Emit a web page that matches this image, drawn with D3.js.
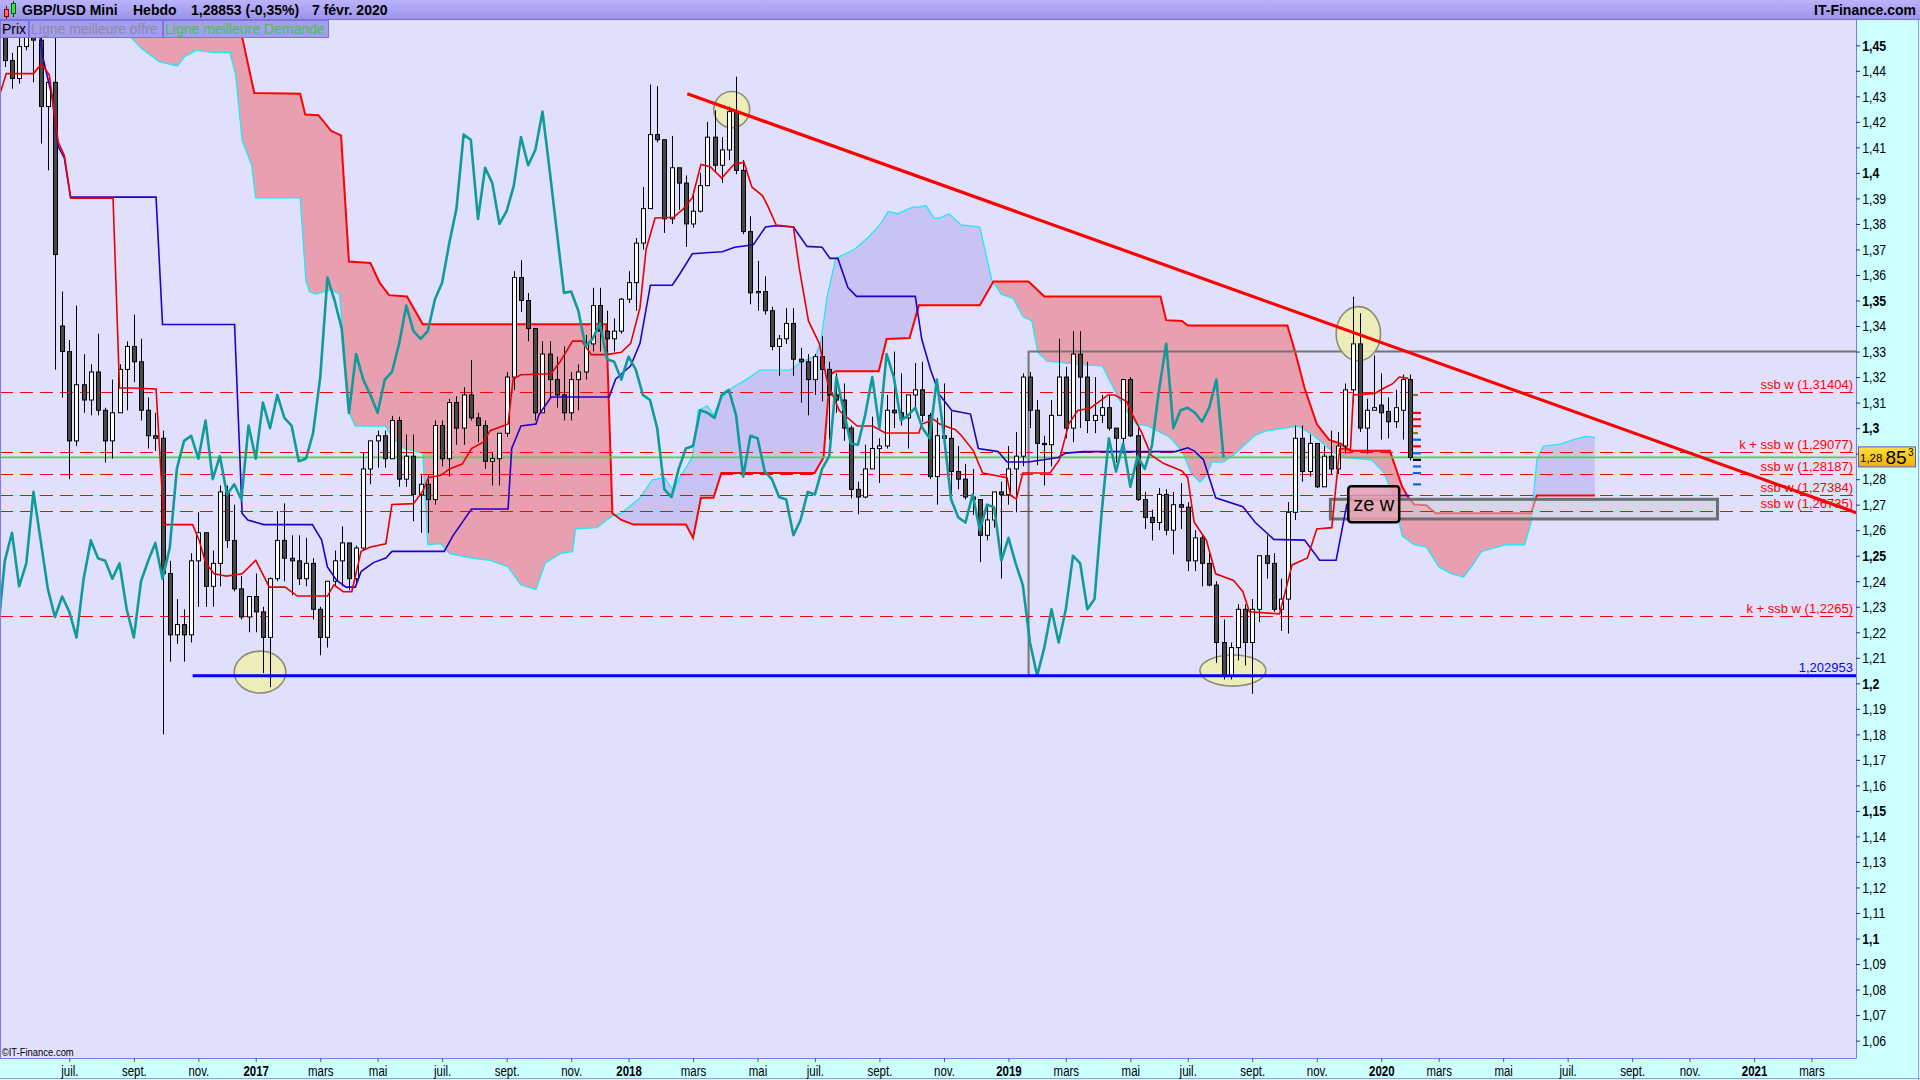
<!DOCTYPE html>
<html><head><meta charset="utf-8">
<script src="https://cdn.jsdelivr.net/npm/d3@7"></script>
<style>
html,body{margin:0;padding:0;background:#e0e0fc;overflow:hidden}
svg{display:block}
text{font-family:"Liberation Sans",Arial,sans-serif}
</style></head><body>
<svg id="c" width="1920" height="1080"></svg>
<script>
// ---------------- DATA ----------------
const firstWeek = "2016-04-25"; // week index 0 (weekly candles)
// weekly candles [open, high, low, close]
const ohlc = [
[1.4405,1.4640,1.4385,1.4615],[1.4615,1.4770,1.4415,1.4440],[1.4440,1.4470,1.4330,1.4370],[1.4370,1.4600,1.4350,1.4495],
[1.4495,1.4720,1.4480,1.4620],[1.4620,1.4650,1.4355,1.4520],[1.4520,1.4660,1.4115,1.4260],[1.4260,1.4360,1.4010,1.4355],
[1.4355,1.5018,1.3229,1.3680],[1.3400,1.3535,1.3120,1.3300],[1.3300,1.3345,1.2800,1.2950],[1.2950,1.3480,1.2930,1.3170],
[1.3170,1.3290,1.3060,1.3110],[1.3110,1.3250,1.3050,1.3220],[1.3220,1.3370,1.3050,1.3070],[1.3070,1.3080,1.2865,1.2950],
[1.2950,1.3190,1.2880,1.3060],[1.3060,1.3250,1.3060,1.3230],[1.3230,1.3340,1.3070,1.3320],[1.3320,1.3445,1.3180,1.3260],
[1.3260,1.3350,1.3030,1.3070],[1.3070,1.3120,1.2920,1.2970],[1.2970,1.3060,1.2910,1.2960],[1.2960,1.2990,1.1800,1.2430],
[1.2430,1.2480,1.2085,1.2190],[1.2190,1.2330,1.2155,1.2230],[1.2230,1.2290,1.2085,1.2190],[1.2190,1.2510,1.2160,1.2480],
[1.2480,1.2670,1.2300,1.2590],[1.2590,1.2590,1.2300,1.2380],[1.2380,1.2520,1.2300,1.2470],[1.2470,1.2775,1.2380,1.2750],
[1.2750,1.2775,1.2530,1.2560],[1.2560,1.2700,1.2360,1.2370],[1.2370,1.2420,1.2250,1.2260],[1.2260,1.2340,1.2200,1.2340],
[1.2340,1.2430,1.2200,1.2280],[1.2280,1.2300,1.2040,1.2180],[1.2180,1.2415,1.1985,1.2410],[1.2410,1.2675,1.2400,1.2560],
[1.2560,1.2705,1.2400,1.2490],[1.2490,1.2580,1.2345,1.2480],[1.2480,1.2580,1.2385,1.2410],[1.2410,1.2570,1.2380,1.2470],
[1.2470,1.2490,1.2250,1.2290],[1.2290,1.2300,1.2110,1.2180],[1.2180,1.2400,1.2140,1.2400],[1.2400,1.2520,1.2380,1.2480],
[1.2480,1.2615,1.2380,1.2550],[1.2550,1.2550,1.2365,1.2410],[1.2410,1.2540,1.2390,1.2530],[1.2530,1.2905,1.2520,1.2840],
[1.2840,1.2950,1.2780,1.2950],[1.2950,1.2990,1.2845,1.2970],[1.2970,1.2990,1.2845,1.2880],[1.2880,1.3048,1.2880,1.3030],
[1.3030,1.3045,1.2770,1.2800],[1.2800,1.2975,1.2770,1.2890],[1.2890,1.2975,1.2635,1.2740],[1.2740,1.2815,1.2590,1.2780],
[1.2780,1.2815,1.2590,1.2720],[1.2720,1.3030,1.2700,1.3010],[1.3010,1.3030,1.2850,1.2880],[1.2880,1.3115,1.2810,1.3100],
[1.3100,1.3125,1.2935,1.3000],[1.3000,1.3160,1.2935,1.3130],[1.3130,1.3267,1.3030,1.3040],[1.3040,1.3060,1.2945,1.3010],
[1.3010,1.3030,1.2840,1.2870],[1.2870,1.2905,1.2775,1.2880],[1.2880,1.2980,1.2775,1.2980],[1.2980,1.3220,1.2965,1.3200],
[1.3200,1.3615,1.3150,1.3590],[1.3590,1.3658,1.3455,1.3500],[1.3500,1.3530,1.3340,1.3390],[1.3390,1.3390,1.3030,1.3060],
[1.3060,1.3340,1.3060,1.3290],[1.3290,1.3340,1.3120,1.3190],[1.3190,1.3280,1.3080,1.3130],[1.3130,1.3320,1.3030,1.3060],
[1.3060,1.3220,1.3030,1.3190],[1.3190,1.3250,1.3070,1.3220],[1.3220,1.3365,1.3190,1.3330],[1.3330,1.3550,1.3300,1.3480],
[1.3480,1.3550,1.3300,1.3380],[1.3380,1.3460,1.3300,1.3350],[1.3350,1.3430,1.3300,1.3380],[1.3380,1.3510,1.3370,1.3505],
[1.3505,1.3615,1.3490,1.3570],[1.3570,1.3745,1.3460,1.3725],[1.3725,1.3945,1.3700,1.3860],[1.3860,1.4346,1.3860,1.4150],
[1.4150,1.4340,1.4120,1.4130],[1.4130,1.4130,1.3765,1.3820],[1.3820,1.4145,1.3800,1.4020],[1.4020,1.4020,1.3855,1.3960],
[1.3960,1.3990,1.3710,1.3800],[1.3800,1.3930,1.3785,1.3850],[1.3850,1.4000,1.3845,1.3950],[1.3950,1.4200,1.3950,1.4140],
[1.4140,1.4245,1.4000,1.4030],[1.4030,1.4140,1.3960,1.4090],[1.4090,1.4260,1.4050,1.4240],[1.4240,1.4377,1.3995,1.4010],
[1.4010,1.4050,1.3760,1.3770],[1.3770,1.3830,1.3485,1.3530],[1.3530,1.3655,1.3460,1.3535],[1.3535,1.3595,1.3445,1.3460],
[1.3460,1.3475,1.3305,1.3320],[1.3320,1.3365,1.3205,1.3350],[1.3350,1.3470,1.3330,1.3410],[1.3410,1.3470,1.3205,1.3270],
[1.3270,1.3315,1.3100,1.3260],[1.3260,1.3290,1.3050,1.3190],[1.3190,1.3290,1.3130,1.3280],[1.3280,1.3360,1.3105,1.3230],
[1.3230,1.3260,1.2955,1.3130],[1.3130,1.3215,1.3060,1.3110],[1.3110,1.3175,1.2950,1.3000],[1.3000,1.3010,1.2725,1.2760],
[1.2760,1.2790,1.2662,1.2730],[1.2730,1.2935,1.2725,1.2840],[1.2840,1.3045,1.2840,1.2920],[1.2920,1.2960,1.2785,1.2930],
[1.2930,1.3130,1.2920,1.3070],[1.3070,1.3300,1.3000,1.3060],[1.3060,1.3215,1.3010,1.3040],[1.3040,1.3130,1.2920,1.3130],
[1.3130,1.3255,1.3080,1.3150],[1.3150,1.3260,1.3025,1.3050],[1.3050,1.3060,1.2800,1.2810],[1.2810,1.3040,1.2700,1.2970],
[1.2970,1.3175,1.2920,1.2960],[1.2960,1.3065,1.2725,1.2830],[1.2830,1.2930,1.2760,1.2800],[1.2800,1.2860,1.2720,1.2730],
[1.2730,1.2840,1.2660,1.2720],[1.2720,1.2720,1.2475,1.2580],[1.2580,1.2700,1.2560,1.2640],[1.2640,1.2750,1.2610,1.2750],
[1.2750,1.2790,1.2410,1.2740],[1.2740,1.2930,1.2700,1.2840],[1.2840,1.2985,1.2670,1.2890],[1.2890,1.3215,1.2850,1.3200],
[1.3200,1.3220,1.3000,1.3070],[1.3070,1.3110,1.2855,1.2940],[1.2940,1.2970,1.2775,1.2935],[1.2935,1.3110,1.2850,1.3050],
[1.3050,1.3350,1.3050,1.3200],[1.3200,1.3240,1.2960,1.3000],[1.3000,1.3380,1.2945,1.3290],[1.3290,1.3380,1.3000,1.3200],
[1.3200,1.3260,1.2980,1.3030],[1.3030,1.3200,1.2980,1.3050],[1.3050,1.3130,1.3020,1.3080],[1.3080,1.3130,1.2990,1.3000],
[1.3000,1.3000,1.2865,1.2960],[1.2960,1.3185,1.2900,1.3190],[1.3190,1.3200,1.2965,1.2970],[1.2970,1.3000,1.2715,1.2720],
[1.2720,1.2750,1.2605,1.2650],[1.2650,1.2680,1.2560,1.2630],[1.2630,1.2765,1.2600,1.2740],[1.2740,1.2760,1.2580,1.2600],
[1.2600,1.2750,1.2505,1.2700],[1.2700,1.2785,1.2605,1.2690],[1.2690,1.2710,1.2440,1.2480],[1.2480,1.2600,1.2440,1.2570],
[1.2570,1.2580,1.2380,1.2470],[1.2470,1.2520,1.2380,1.2385],[1.2385,1.2400,1.2080,1.2160],[1.2160,1.2250,1.2015,1.2030],
[1.2030,1.2160,1.2015,1.2140],[1.2140,1.2310,1.2090,1.2290],[1.2290,1.2310,1.2070,1.2160],[1.2160,1.2330,1.1959,1.2290],
[1.2290,1.2500,1.2240,1.2500],[1.2500,1.2580,1.2410,1.2470],[1.2470,1.2510,1.2280,1.2290],[1.2290,1.2410,1.2205,1.2330],
[1.2330,1.2710,1.2195,1.2670],[1.2670,1.3010,1.2640,1.2960],[1.2960,1.3010,1.2790,1.2830],[1.2830,1.2975,1.2810,1.2940],
[1.2940,1.2940,1.2765,1.2770],[1.2770,1.2930,1.2770,1.2890],[1.2890,1.2990,1.2820,1.2840],[1.2840,1.2985,1.2820,1.2930],
[1.2930,1.3175,1.2900,1.3150],[1.3150,1.3515,1.3100,1.3330],[1.3330,1.3450,1.2985,1.3000],[1.3000,1.3115,1.2900,1.3070],
[1.3070,1.3285,1.3070,1.3080],[1.3090,1.3215,1.2955,1.3060],[1.3065,1.3120,1.2960,1.3025],[1.3025,1.3150,1.3000,1.3080],
[1.3070,1.3210,1.2955,1.3190],[1.3190,1.3210,1.2873,1.2885]
];
const chikouShift = 26; // weeks
// Ichimoku lines: [week index, value]
const tenkan = [[0,1.428],[1.2,1.4389],[5.0,1.4389],[6.1,1.4427],[7.2,1.4384],[8.45,1.4121],[9.3,1.4068],[10.2,1.3901],[16.1,1.3901],[17.0,1.3157],[18.7,1.3157],[22.1,1.3153],[23.2,1.2622],[27.2,1.2622],[28.1,1.2561],[29.0,1.2473],[30.2,1.2429],[31.9,1.2420],[34.1,1.2429],[36.0,1.2482],[37.9,1.2377],[40.1,1.2377],[41.8,1.2342],[46.0,1.2342],[46.9,1.2386],[48.2,1.2359],[49.4,1.2359],[50.7,1.2517],[52.0,1.2534],[54.15,1.2547],[55.0,1.2701],[58.0,1.2704],[59.3,1.2753],[60.1,1.2806],[61.8,1.2815],[63.1,1.2841],[64.8,1.2859],[66.1,1.2920],[67.8,1.2946],[68.7,1.2990],[71.2,1.3016],[71.9,1.3192],[73.0,1.3209],[77.2,1.3213],[78.5,1.3262],[80.2,1.3341],[81.5,1.3341],[82.8,1.3288],[84.9,1.3288],[87.0,1.3297],[88.3,1.3332],[89.6,1.3472],[90.45,1.3700],[91.7,1.3823],[94.3,1.3826],[95.6,1.3858],[96.9,1.3902],[98.1,1.4033],[99.4,1.4024],[101.0,1.3980],[102.7,1.4033],[104.1,1.4042],[105.2,1.3945],[106.7,1.3910],[107.5,1.3866],[108.6,1.3796],[111.0,1.3788],[111.8,1.3630],[113.1,1.3420],[114.6,1.3332],[115.8,1.3174],[117.4,1.3069],[119.9,1.3008],[122.1,1.3008],[123.8,1.2981],[128.5,1.2981],[128.9,1.3016],[130.6,1.3034],[131.4,1.3016],[133.6,1.2994],[134.4,1.2972],[136.1,1.2911],[137.4,1.2824],[140.8,1.2806],[141.3,1.2736],[142.1,1.2722],[143.0,1.2824],[146.8,1.2824],[148.1,1.2876],[149.4,1.3016],[150.65,1.3069],[152.4,1.3078],[154.9,1.3130],[155.8,1.3130],[157.5,1.3104],[158.3,1.3052],[159.6,1.2981],[160.9,1.2894],[162.6,1.2862],[165.2,1.2832],[166.0,1.2806],[166.9,1.2631],[168.6,1.2561],[169.9,1.2429],[172.4,1.2403],[173.7,1.2359],[174.6,1.2280],[178.8,1.2272],[179.7,1.2368],[180.55,1.2464],[182.7,1.2491],[184.0,1.2605],[186.1,1.2610],[187.2,1.2920],[188.7,1.2915],[189.1,1.3130],[192.1,1.3136],[193.4,1.3157],[194.6,1.3174],[195.5,1.3200],[196.8,1.3195]];
const kijun = [[0,1.458],[5.0,1.4533],[5.9,1.4533],[6.3,1.4454],[7.6,1.4296],[8.45,1.4103],[9.3,1.4059],[10.16,1.3905],[22.1,1.3905],[23.0,1.3406],[33.05,1.3406],[34.1,1.2666],[34.9,1.2640],[37.1,1.2622],[43.9,1.2622],[45.2,1.2561],[46.0,1.2456],[47.3,1.2403],[48.6,1.2377],[49.9,1.2377],[50.7,1.2438],[52.4,1.2473],[54.15,1.2491],[55.0,1.2517],[62.3,1.2517],[63.5,1.2578],[66.1,1.2683],[71.2,1.2683],[71.7,1.2920],[73.0,1.3008],[75.1,1.3016],[75.5,1.3052],[77.2,1.3122],[85.3,1.3122],[86.2,1.3192],[88.3,1.3244],[89.6,1.3332],[91.05,1.3560],[94.1,1.3560],[95.15,1.3604],[96.9,1.3683],[99.4,1.3688],[101.1,1.3691],[102.8,1.3709],[105.4,1.3718],[107.1,1.3788],[108.4,1.3793],[111.0,1.3788],[112.9,1.3712],[115.0,1.3709],[116.1,1.3665],[117.2,1.3665],[118.6,1.3551],[119.8,1.3516],[128.0,1.3516],[128.9,1.3349],[130.15,1.3227],[131.4,1.3130],[133.1,1.3069],[135.7,1.3055],[136.8,1.2920],[139.55,1.2908],[140.8,1.2867],[143.8,1.2867],[147.9,1.2885],[149.0,1.2902],[151.5,1.2908],[164.3,1.2908],[166.0,1.2923],[166.9,1.2911],[168.2,1.2876],[169.9,1.2727],[173.7,1.2692],[175.4,1.2631],[178.0,1.2564],[182.3,1.2561],[184.4,1.2482],[186.7,1.2482],[188.2,1.2701],[188.9,1.2736],[197,1.2736]];
const senkouA = [[17,1.47],[18.3,1.4541],[20.0,1.4489],[22.5,1.4436],[25.1,1.4419],[26.0,1.4454],[27.7,1.4480],[30.2,1.4471],[32.4,1.4471],[33.2,1.4384],[34.1,1.4129],[35.4,1.4033],[36.0,1.3902],[42.2,1.3902],[43.0,1.3577],[43.5,1.3534],[44.3,1.3525],[46.5,1.3542],[47.7,1.3525],[49.0,1.3060],[49.9,1.3008],[54.15,1.3008],[55.0,1.2964],[56.7,1.2920],[59.3,1.2902],[60.0,1.2543],[61.8,1.2547],[63.1,1.2508],[66.1,1.2491],[68.7,1.2482],[71.2,1.2456],[73.0,1.2385],[75.1,1.2368],[76.4,1.2473],[78.5,1.2508],[80.2,1.2517],[80.6,1.2605],[83.6,1.2610],[85.75,1.2657],[87.0,1.2666],[89.6,1.2727],[91.3,1.2797],[93.0,1.2806],[94.3,1.2753],[95.15,1.2806],[96.9,1.2885],[97.7,1.3069],[99.0,1.3087],[99.85,1.3052],[101.1,1.3122],[102.4,1.3157],[104.55,1.3192],[106.3,1.3227],[110.5,1.3227],[112.2,1.3262],[113.95,1.3279],[114.8,1.3332],[115.65,1.3507],[116.9,1.3665],[119.5,1.3700],[121.6,1.3752],[123.3,1.3805],[124.2,1.3849],[125.5,1.3840],[127.6,1.3866],[128.4,1.3866],[129.5,1.3872],[130.6,1.3823],[131.4,1.3823],[132.7,1.3840],[134.4,1.3796],[137.0,1.3788],[138.7,1.3577],[140.0,1.3525],[141.7,1.3507],[143.0,1.3437],[144.25,1.3420],[145.1,1.3297],[146.4,1.3262],[151.5,1.3248],[154.1,1.3244],[155.35,1.3174],[156.6,1.3104],[158.8,1.3016],[160.5,1.3008],[161.75,1.2990],[163.5,1.2964],[165.2,1.2911],[166.5,1.2824],[167.7,1.2789],[168.6,1.2815],[169.4,1.2867],[170.9,1.2867],[172.4,1.2894],[173.7,1.2929],[175.4,1.2972],[177.1,1.2990],[181.4,1.3008],[183.5,1.2972],[185.7,1.2920],[187.4,1.2885],[191.65,1.2876],[193.4,1.2824],[194.6,1.2736],[195.5,1.2631],[195.9,1.2578],[197.6,1.2543],[199.3,1.2534],[201.05,1.2456],[202.8,1.2429],[204.5,1.2417],[205.75,1.2464],[207.0,1.2517],[210.45,1.2543],[213.0,1.2543],[213.9,1.2631],[214.7,1.2876],[215.6,1.2929],[218.1,1.2938],[219.8,1.2955],[221.55,1.2967],[222.8,1.2964]];
const senkouB = [[17,1.50],[33.5,1.4664],[34.1,1.4533],[35.8,1.4313],[42.2,1.4310],[42.9,1.4229],[44.75,1.4226],[46.5,1.4165],[47.9,1.4147],[49.0,1.3653],[52.0,1.3647],[53.3,1.3569],[54.6,1.3521],[57.1,1.3516],[59.3,1.3407],[84.9,1.3407],[85.75,1.2666],[87.0,1.2640],[88.7,1.2622],[96.0,1.2622],[97.0,1.2570],[98.1,1.2727],[99.85,1.2727],[100.95,1.2824],[113.95,1.2824],[115.2,1.2885],[116.1,1.3209],[116.9,1.3223],[122.9,1.3223],[124.0,1.3349],[127.2,1.3353],[128.5,1.3481],[137.0,1.3481],[138.9,1.3574],[143.8,1.3574],[146.0,1.3516],[162.2,1.3516],[163.0,1.3423],[165.2,1.3420],[166.0,1.3402],[179.9,1.3402],[181.0,1.3297],[182.3,1.3157],[184.0,1.3016],[185.7,1.2955],[187.4,1.2938],[188.7,1.2911],[194.2,1.2911],[195.9,1.2771],[196.8,1.2727],[197.6,1.2701],[199.3,1.2698],[200.6,1.2666],[213.9,1.2666],[214.7,1.2736],[222.8,1.2736]];
// horizontal levels
const levelValues = [1.31404, 1.29077, 1.28187, 1.27384, 1.26735, 1.2265];
const levelLabels = ["ssb w (1,31404)","k + ssb w (1,29077)","ssb w (1,28187)","ssb w (1,27384)","ssb w (1,26735)","k + ssb w (1,2265)"];
const supportValue = 1.202953, supportLabel = "1,202953", supportStartWeek = 27.2;
const lastPrice = 1.28853;
const lastPriceParts = ["1,28","85","3"];
const trendPoints = [[96.2,1.4310],[259.8,1.2663]];
// annotations: [week, value, half-width in weeks, half-height in price]
const ellipses = [[36.6,1.2044,3.6,0.0082],[102.4,1.4248,2.5,0.0071],[189.8,1.3370,3.1,0.0106],[172.3,1.2050,4.6,0.0061]];
const rangeBox = [143.8, 1.3300, 1.202953];          // start week, top, bottom (open to the right)
const zoneBox = [185.9, 239.9, 1.2721, 1.2644];      // weeks, top, bottom
const zeBox = [188.4, 195.5, 1.2772, 1.2631], zeLabel = "ze w";
const bookMarks = [[1.3130,"o"],[1.3060,"a"],[1.3035,"a"],[1.3008,"a"],[1.2981,"o"],[1.2955,"b"],[1.2929,"a"],[1.2902,"b"],[1.2876,"k"],[1.2850,"b"],[1.2824,"b"],[1.2780,"b"]];
const monthNames = ["janv.","févr.","mars","avr.","mai","juin","juil.","août","sept.","oct.","nov.","déc."];
const yTickValues = d3.range(106, 146).map(v => v / 100);
const titleParts = [["GBP/USD Mini",22],["Hebdo",133],["1,28853 (-0,35%)",191],["7 févr. 2020",312]];
const tabs = [["Prix","#000000",0,28],["Ligne meilleure offre","#8a8aac",29,162],["Ligne meilleure Demande","#40c840",163,328]];

// ---------------- LAYOUT ----------------
const W = 1920, H = 1080, plotR = 1856, plotT = 20, plotB = 1058;
const svg = d3.select("#c");
const t0 = d3.timeParse("%Y-%m-%d")(firstWeek);
const x = d3.scaleTime().domain([new Date(2017,0,1), new Date(2021,0,1)]).range([254.7, 1751]);
const xw = w => x(new Date(t0.getTime() + w * 7 * 86400000));
const y = d3.scaleLinear().domain([1.45, 1.06]).range([45.3, 1040.6]);

const defs = svg.append("defs");
defs.append("clipPath").attr("id","plotClip").append("rect").attr("x",0).attr("y",plotT).attr("width",plotR).attr("height",plotB-plotT);
const areaDown = d3.area().x(d=>xw(d[0])).y0(plotB+10).y1(d=>y(d[1]));
const areaUp = d3.area().x(d=>xw(d[0])).y0(-10).y1(d=>y(d[1]));
defs.append("clipPath").attr("id","aboveA").append("path").attr("d", areaUp(senkouA));
defs.append("clipPath").attr("id","aboveB").append("path").attr("d", areaUp(senkouB));
const hg = defs.append("linearGradient").attr("id","hdr").attr("x1",0).attr("y1",0).attr("x2",0).attr("y2",1);
hg.append("stop").attr("offset","0").attr("stop-color","#bab3fb");
hg.append("stop").attr("offset","1").attr("stop-color","#9a92ea");
const pg = defs.append("linearGradient").attr("id","pl").attr("x1",0).attr("y1",0).attr("x2",0).attr("y2",1);
pg.append("stop").attr("offset","0").attr("stop-color","#ffe040");
pg.append("stop").attr("offset","1").attr("stop-color","#f0b000");

// backgrounds
svg.append("rect").attr("x",0).attr("y",0).attr("width",W).attr("height",H).attr("fill","#e0e0fc");
svg.append("rect").attr("x",plotR).attr("y",plotT).attr("width",W-plotR).attr("height",H-plotT).attr("fill","#ccffff");
svg.append("rect").attr("x",0).attr("y",plotB).attr("width",plotR).attr("height",H-plotB).attr("fill","#ccffff");

const plot = svg.append("g").attr("clip-path","url(#plotClip)");
const line = d3.line().x(d=>xw(d[0])).y(d=>y(d[1]));

// cloud
plot.append("path").attr("d", areaDown(senkouB)).attr("clip-path","url(#aboveA)").attr("fill","#e8a0b0");
plot.append("path").attr("d", areaDown(senkouA)).attr("clip-path","url(#aboveB)").attr("fill","#c9c3f4");
plot.append("path").attr("d", line(senkouA)).attr("fill","none").attr("stroke","#20e8f8").attr("stroke-width",1.3);
plot.append("path").attr("d", line(senkouB)).attr("fill","none").attr("stroke","#ff0000").attr("stroke-width",2);

// zone box (future)
plot.append("rect").attr("x",xw(zoneBox[0])).attr("y",y(zoneBox[2])).attr("width",xw(zoneBox[1])-xw(zoneBox[0]))
  .attr("height",y(zoneBox[3])-y(zoneBox[2])).attr("fill","rgba(205,205,220,0.55)").attr("stroke","#6e6e6e").attr("stroke-width",3);

// range box
plot.append("path").attr("d", `M${plotR+10},${y(rangeBox[1])}H${xw(rangeBox[0])}V${y(rangeBox[2])}`)
  .attr("fill","none").attr("stroke","#747474").attr("stroke-width",2);

// dashed levels
plot.selectAll(".lvl").data(levelValues).join("line").attr("x1",0).attr("x2",plotR)
  .attr("y1",d=>Math.round(y(d))+0.5).attr("y2",d=>Math.round(y(d))+0.5)
  .attr("stroke","#ff0000").attr("stroke-width",1).attr("stroke-dasharray","13,7");
// last price line
plot.append("line").attr("x1",0).attr("x2",plotR).attr("y1",y(lastPrice)).attr("y2",y(lastPrice))
  .attr("stroke","#62c262").attr("stroke-width",1.8);

// ellipses
plot.selectAll(".ell").data(ellipses).join("ellipse")
  .attr("cx",d=>xw(d[0])).attr("cy",d=>y(d[1]))
  .attr("rx",d=>xw(d[0]+d[2])-xw(d[0])).attr("ry",d=>y(d[1]-d[3])-y(d[1]))
  .attr("fill","#eeeeb2").attr("fill-opacity",0.9).attr("stroke","#8c8c78").attr("stroke-width",1.6);

// candles
const cg = plot.append("g");
const cw = 5;
cg.selectAll(".wick").data(ohlc).join("line")
  .attr("x1",(d,i)=>Math.round(xw(i))+0.5).attr("x2",(d,i)=>Math.round(xw(i))+0.5)
  .attr("y1",d=>y(d[1])).attr("y2",d=>y(d[2])).attr("stroke","#000").attr("stroke-width",1);
cg.selectAll(".body").data(ohlc).join("rect")
  .attr("x",(d,i)=>Math.round(xw(i))-2+0.5).attr("width",cw-1)
  .attr("y",d=>y(Math.max(d[0],d[3]))).attr("height",d=>Math.max(1,y(Math.min(d[0],d[3]))-y(Math.max(d[0],d[3]))))
  .attr("fill",d=>d[3]>=d[0]?"#ffffff":"#484848").attr("stroke","#000").attr("stroke-width",1);

// kijun / tenkan
plot.append("path").attr("d", line(kijun)).attr("fill","none").attr("stroke","#2200c8").attr("stroke-width",1.6);
plot.append("path").attr("d", line(tenkan)).attr("fill","none").attr("stroke","#e80000").attr("stroke-width",1.6);
// chikou
plot.append("path").attr("d", d3.line().x((d,i)=>xw(i-chikouShift)).y(d=>y(d[3]))(ohlc))
  .attr("fill","none").attr("stroke","#119a9a").attr("stroke-width",2.6).attr("stroke-linejoin","round");

// ze w box
plot.append("rect").attr("x",xw(zeBox[0])).attr("y",y(zeBox[2])).attr("width",xw(zeBox[1])-xw(zeBox[0]))
  .attr("height",y(zeBox[3])-y(zeBox[2])).attr("rx",3).attr("fill","#e8a0b0").attr("fill-opacity",0.85)
  .attr("stroke","#000").attr("stroke-width",2.5);
plot.append("text").attr("x",(xw(zeBox[0])+xw(zeBox[1]))/2).attr("y",y((zeBox[2]+zeBox[3])/2)+7)
  .attr("text-anchor","middle").attr("font-size",20).attr("fill","#000").text(zeLabel);

// support line
plot.append("line").attr("x1",xw(supportStartWeek)).attr("x2",plotR).attr("y1",y(supportValue)).attr("y2",y(supportValue))
  .attr("stroke","#0000ff").attr("stroke-width",3);

// order-book marks
const mcol = {a:"#ff0000",b:"#1060e0",o:"#808000",k:"#000000"};
plot.selectAll(".bm").data(bookMarks).join("rect")
  .attr("x",xw(ohlc.length-1)+3).attr("width",d=>d[1]==="o"?5:8).attr("y",d=>y(d[0])-1).attr("height",2.2)
  .attr("fill",d=>mcol[d[1]]);

// trend line
plot.append("path").attr("d", line(trendPoints)).attr("stroke","#ff0000").attr("stroke-width",3.2).attr("fill","none");

// labels
plot.selectAll(".ll").data(levelValues).join("text").attr("x",plotR-3).attr("y",d=>y(d)-3)
  .attr("text-anchor","end").attr("font-size",13).attr("fill","#ff0000").text((d,i)=>levelLabels[i]);
plot.append("text").attr("x",plotR-3).attr("y",y(supportValue)-4).attr("text-anchor","end")
  .attr("font-size",13).attr("fill","#0000ff").text(supportLabel);

// borders
svg.append("line").attr("x1",plotR+0.5).attr("x2",plotR+0.5).attr("y1",plotT).attr("y2",plotB).attr("stroke","#7c7ce4");
svg.append("line").attr("x1",0).attr("x2",plotR+0.5).attr("y1",plotB+0.5).attr("y2",plotB+0.5).attr("stroke","#7c7ce4");
svg.append("line").attr("x1",0.5).attr("x2",0.5).attr("y1",plotT).attr("y2",plotB).attr("stroke","#7c7ce4");
svg.append("line").attr("x1",W-1.5).attr("x2",W-1.5).attr("y1",plotT).attr("y2",H).attr("stroke","#9a9ae8");
svg.append("line").attr("x1",0).attr("x2",W).attr("y1",H-1.5).attr("y2",H-1.5).attr("stroke","#9a9ae8");

// y axis (the label hidden behind the last-price box is not shown, as in the original)
const fmtY = v => String(+v.toFixed(2)).replace(".", ",");
const isMajor = v => Math.round(v*100) % 5 === 0;
const hiddenByPrice = v => Math.abs(y(v) - y(lastPrice)) < 14;
const yg = svg.append("g").attr("transform",`translate(${plotR},0)`)
  .call(d3.axisRight(y).tickValues(yTickValues).tickSize(4).tickFormat(v => hiddenByPrice(v) ? "" : fmtY(v)));
yg.select(".domain").remove();
yg.selectAll(".tick line").attr("stroke","#303070");
yg.selectAll(".tick text").attr("x",7.6).attr("transform","scale(0.82,1)")
  .attr("font-family","'Liberation Sans',Arial,sans-serif").attr("font-size",15).attr("fill","#000")
  .attr("font-weight",d=>isMajor(d)?"bold":"normal");
yg.selectAll(".tick text").filter(d => hiddenByPrice(d)).remove();

// x axis: ticks on the first weekly candle of every other month
const xTicks = d3.timeMonth.every(2).range(new Date(2016,6,1), new Date(2021,3,2)).map(d => d3.timeMonday.ceil(d));
const xg = svg.append("g").attr("transform",`translate(0,${plotB})`)
  .call(d3.axisBottom(x).tickValues(xTicks).tickSize(4).tickPadding(4)
    .tickFormat(d => d.getMonth()===0 ? String(d.getFullYear()) : monthNames[d.getMonth()]));
xg.select(".domain").remove();
xg.selectAll(".tick line").attr("stroke","#5050b0");
xg.selectAll(".tick text").attr("x",0).attr("transform","scale(0.82,1)")
  .attr("font-family","'Liberation Sans',Arial,sans-serif").attr("font-size",14).attr("fill","#000")
  .attr("font-weight",d=>d.getMonth()===0?"bold":"normal");

// copyright
svg.append("text").attr("x",2).attr("y",1056).attr("font-size",10.5).attr("fill","#000")
  .attr("transform","scale(0.9,1)").text("©IT-Finance.com");

// header
svg.append("rect").attr("x",0).attr("y",0).attr("width",W).attr("height",20).attr("fill","url(#hdr)");
svg.append("line").attr("x1",0).attr("x2",W).attr("y1",19.5).attr("y2",19.5).attr("stroke","#7a72dc");
const ic = svg.append("g");
ic.append("line").attr("x1",6.5).attr("x2",6.5).attr("y1",6).attr("y2",19).attr("stroke","#800000");
ic.append("rect").attr("x",4.5).attr("y",9.5).attr("width",4).attr("height",7).attr("fill","#ff6a6a").attr("stroke","#900000");
ic.append("line").attr("x1",13.5).attr("x2",13.5).attr("y1",1).attr("y2",17).attr("stroke","#005000");
ic.append("rect").attr("x",11.5).attr("y",3.5).attr("width",4).attr("height",10).attr("fill","#40e040").attr("stroke","#006000");
svg.selectAll(".tp").data(titleParts).join("text").attr("x",d=>d[1]).attr("y",15)
  .attr("font-size",14).attr("font-weight","bold").attr("fill","#000").text(d=>d[0]);
svg.append("text").attr("x",W-4).attr("y",15).attr("text-anchor","end").attr("font-size",14)
  .attr("font-weight","bold").attr("fill","#000").text("IT-Finance.com");
// tabs
const tg = svg.selectAll(".tab").data(tabs).join("g");
tg.append("rect").attr("x",d=>d[2]+0.5).attr("y",20.5).attr("width",d=>d[3]-d[2]).attr("height",17)
  .attr("fill","#a59eea").attr("stroke","#7c75e0");
tg.append("text").attr("x",d=>d[2]+2).attr("y",34).attr("font-size",14).attr("fill",d=>d[1]).text(d=>d[0]);

// last price label
const py = y(lastPrice);
svg.append("rect").attr("x",1858.5).attr("y",py-10.5).attr("width",57).attr("height",20).attr("fill","url(#pl)").attr("stroke","#5a5ac8");
svg.append("text").attr("x",1860).attr("y",py+5).attr("font-size",11.5).attr("fill","#000").text(lastPriceParts[0]);
svg.append("text").attr("x",1885.5).attr("y",py+6.5).attr("font-size",19).attr("fill","#000").text(lastPriceParts[1]);
svg.append("text").attr("x",1908).attr("y",py-1.5).attr("font-size",10).attr("fill","#000").text(lastPriceParts[2]);
</script>
</body></html>
